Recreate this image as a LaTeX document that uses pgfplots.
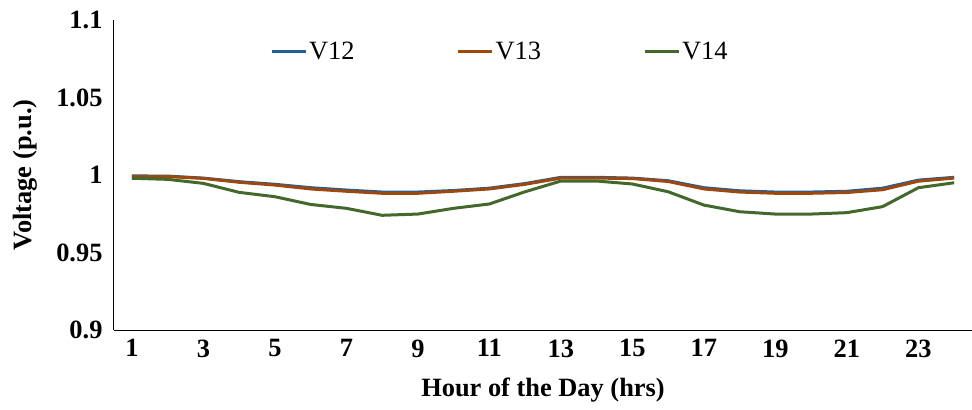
\documentclass[border=0pt]{standalone}
\usepackage{pgfplots}
\pgfplotsset{compat=1.18}
\usepackage{fontspec}
\setmainfont{Liberation Serif}
\definecolor{cA}{HTML}{255E91}
\definecolor{cB}{HTML}{9E480E}
\definecolor{cC}{HTML}{43682B}
\begin{document}
\begin{tikzpicture}
\begin{axis}[
  name=ax,
  scale only axis,
  width=858bp, height=310bp,
  xmin=0.5, xmax=24.5,
  ymin=0.9, ymax=1.1,
  xtick={1,3,...,23},
  ytick={0.9,0.95,1,1.05,1.1},
  yticklabels={0.9,0.95,1,1.05,1.1},
  xticklabels={1,3,5,7,9,11,13,15,17,19,21,23},
  major tick length=0pt,
  axis x line=bottom, axis y line=left,
  axis line style={-, line width=1bp, black},
  tick label style={font=\bfseries\fontsize{26.5}{28}\selectfont},
  yticklabel style={xshift=-8bp},
  xticklabel style={yshift=-6bp},
  xlabel={Hour of the Day (hrs)},
  ylabel={Voltage (p.u.)},
  label style={font=\bfseries\fontsize{26.5}{28}\selectfont},
  xlabel style={at={(axis description cs:0.5,-0.1935)}, anchor=center},
  ylabel style={at={(axis description cs:-0.1037,0.5)}, anchor=center},
  legend columns=3,
  legend style={draw=none, fill=none, at={(axis description cs:0.1818,0.897)}, anchor=west,
    font=\fontsize{26.5}{28}\selectfont, inner sep=0pt,
    /tikz/every odd column/.append style={column sep=0bp},
    /tikz/every even column/.append style={column sep=100bp}},
  legend image code/.code={\draw[#1] (0bp,0bp) -- (34bp,0bp);},
  every axis plot/.append style={line width=3bp, mark=none},
  clip=false,
]
\addplot[cA] coordinates {(1,0.9994)(2,0.9993)(3,0.998)(4,0.9957)(5,0.994)(6,0.9918)(7,0.9903)(8,0.989)(9,0.989)(10,0.990)(11,0.9915)(12,0.9945)(13,0.9985)(14,0.9985)(15,0.998)(16,0.9963)(17,0.9918)(18,0.9898)(19,0.989)(20,0.989)(21,0.9895)(22,0.9915)(23,0.9967)(24,0.9985)};
\addlegendentry{V12}
\addplot[cB] coordinates {(1,0.999)(2,0.999)(3,0.9978)(4,0.9953)(5,0.9935)(6,0.991)(7,0.9895)(8,0.9882)(9,0.9882)(10,0.9895)(11,0.991)(12,0.994)(13,0.998)(14,0.998)(15,0.9977)(16,0.9958)(17,0.991)(18,0.989)(19,0.9882)(20,0.9882)(21,0.9887)(22,0.9905)(23,0.996)(24,0.998)};
\addlegendentry{V13}
\addplot[cC] coordinates {(1,0.9979)(2,0.9972)(3,0.9946)(4,0.9888)(5,0.986)(6,0.981)(7,0.9785)(8,0.974)(9,0.9748)(10,0.9785)(11,0.9813)(12,0.9892)(13,0.9961)(14,0.9961)(15,0.9942)(16,0.9892)(17,0.9806)(18,0.9763)(19,0.9748)(20,0.9748)(21,0.9757)(22,0.9796)(23,0.9918)(24,0.995)};
\addlegendentry{V14}
\end{axis}
\pgfresetboundingbox
\path ([xshift=-114bp,yshift=-80bp]ax.south west) rectangle ([yshift=20bp]ax.north east);
\end{tikzpicture}
\end{document}
